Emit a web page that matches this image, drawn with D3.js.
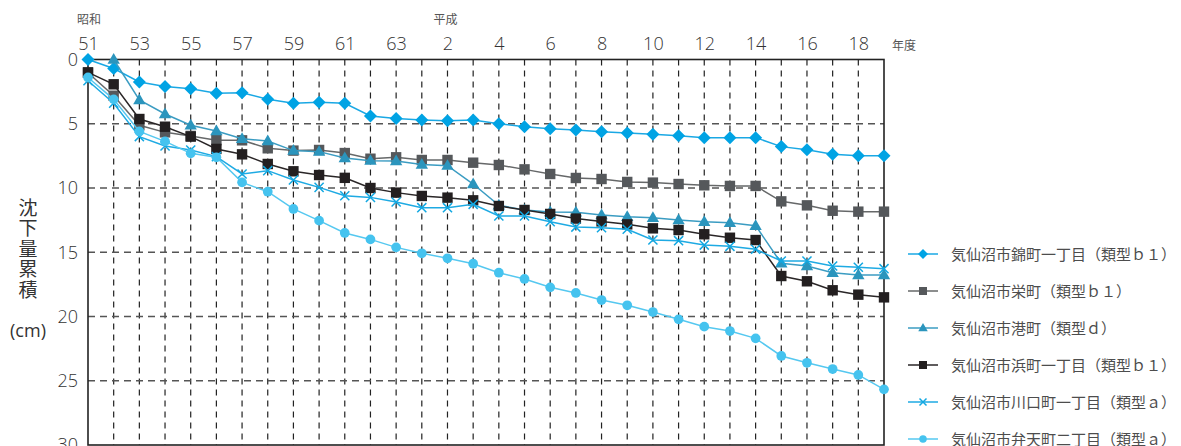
<!DOCTYPE html>
<html><head><meta charset="utf-8">
<script src="https://cdn.jsdelivr.net/npm/d3@7"></script>
<style>
body{margin:0;background:#fff;}
svg{display:block;font-family:"Noto Sans CJK JP","Noto Sans",sans-serif;}
</style></head>
<body><svg id="c" width="1181" height="446"></svg>
<script>
// Year index 0..31 : 昭和51 .. 平成19
const years = d3.range(32);
const tickIdx = d3.range(0, 31, 2);
const tickLabels = ["51","53","55","57","59","61","63","2","4","6","8","10","12","14","16","18"];
const yTicks = [0,5,10,15,20,25,30];

const seriesNames = [
  "気仙沼市錦町一丁目（類型ｂ１）",
  "気仙沼市栄町（類型ｂ１）",
  "気仙沼市港町（類型ｄ）",
  "気仙沼市浜町一丁目（類型ｂ１）",
  "気仙沼市川口町一丁目（類型ａ）",
  "気仙沼市弁天町二丁目（類型ａ）"
];
const nishiki = [0,0.7,1.75,2.1,2.27,2.63,2.58,3.1,3.41,3.33,3.41,4.4,4.6,4.7,4.76,4.7,5.0,5.23,5.38,5.49,5.62,5.72,5.82,5.93,6.08,6.08,6.08,6.78,7.02,7.38,7.49,7.49];
const sakae = [1.03,2.82,5.12,5.67,5.95,6.28,6.29,6.91,7.09,7.04,7.28,7.72,7.61,7.82,7.82,8.03,8.21,8.55,8.91,9.22,9.3,9.53,9.58,9.69,9.79,9.84,9.84,11.04,11.35,11.77,11.84,11.84];
const minato = [null,0,3.15,4.24,5.12,5.56,6.16,6.34,7.09,7.17,7.67,7.87,7.9,8.18,8.26,9.69,11.35,11.71,11.87,11.89,12.1,12.23,12.31,12.49,12.62,12.7,12.93,15.86,16.07,16.59,16.77,16.77];
const hama = [1.0,1.93,4.63,5.23,6.0,6.96,7.38,8.13,8.7,8.99,9.21,10.0,10.36,10.62,10.75,10.96,11.4,11.71,12.02,12.38,12.6,12.83,13.14,13.27,13.6,13.87,14.05,16.85,17.26,17.96,18.3,18.51];
const kawaguchi = [1.65,3.4,6.0,6.73,7.04,7.56,8.91,8.65,9.38,9.95,10.6,10.73,11.09,11.53,11.53,11.27,12.18,12.18,12.62,13.04,13.09,13.21,14.05,14.1,14.44,14.54,14.77,15.68,15.68,16.07,16.17,16.28];
const benten = [1.4,3.1,5.6,6.37,7.3,7.61,9.56,10.29,11.63,12.54,13.5,14.0,14.62,15.08,15.47,15.89,16.59,17.08,17.73,18.17,18.72,19.13,19.65,20.22,20.79,21.13,21.7,23.07,23.6,24.09,24.55,25.67];

const seriesValues = [nishiki, sakae, minato, hama, kawaguchi, benten];
const colors = ["#00a3e4","#55585b","#2b95bd","#231f20","#12a8e2","#45c3ef"];
const lineColors = ["#1aa8e4","#666869","#3b9cc2","#2a2627","#1eaae3","#55c8f0"];
const markers = ["diamond","square","triangle","square","cross","circle"];

const svg = d3.select("#c");
const x = d3.scaleLinear().domain([0,31]).range([88,884]);
const y = d3.scaleLinear().domain([0,30]).range([59.5,445]);

// grid
const g = svg.append("g");
g.selectAll("line.v").data(d3.range(1,31)).join("line")
  .attr("x1",d=>x(d)).attr("x2",d=>x(d)).attr("y1",y(0)).attr("y2",y(30))
  .attr("stroke","#222").attr("stroke-width",1.2).attr("stroke-dasharray","6,5");
g.selectAll("line.h").data([5,10,15,20,25]).join("line")
  .attr("x1",x(0)).attr("x2",x(31)).attr("y1",d=>y(d)).attr("y2",d=>y(d))
  .attr("stroke","#555").attr("stroke-width",1.4).attr("stroke-dasharray","7,5");
// frame
g.append("rect").attr("x",x(0)).attr("y",y(0)).attr("width",x(31)-x(0)).attr("height",y(30)-y(0))
  .attr("fill","none").attr("stroke","#222").attr("stroke-width",1.6);

// axes
const xAxis = d3.axisTop(x).tickValues(tickIdx).tickFormat((d,i)=>tickLabels[i]).tickSize(0).tickPadding(10);
const ax = svg.append("g").attr("transform",`translate(0,${y(0)})`).call(xAxis);
ax.select(".domain").remove();
ax.selectAll("text").attr("font-size",18).attr("fill","#333").attr("font-weight",300)
  .attr("font-family","'Open Sans','Noto Sans',sans-serif");

const yAxis = d3.axisLeft(y).tickValues(yTicks).tickSize(0).tickPadding(10);
const ay = svg.append("g").attr("transform",`translate(${x(0)},0)`).call(yAxis);
ay.select(".domain").remove();
ay.selectAll("text").attr("font-size",18).attr("fill","#333").attr("font-weight",300)
  .attr("font-family","'Open Sans','Noto Sans',sans-serif");

// era labels
svg.append("text").text("昭和").attr("x",x(0)-11).attr("y",24).attr("font-size",12).attr("fill","#555");
svg.append("text").text("平成").attr("x",x(14)-14).attr("y",24).attr("font-size",12).attr("fill","#555");
svg.append("text").text("年度").attr("x",892).attr("y",50).attr("font-size",12).attr("fill","#555");

// y title (vertical)
svg.append("text").text("沈下量累積")
  .attr("x",28).attr("y",198)
  .style("writing-mode","vertical-rl").style("text-orientation","upright")
  .style("letter-spacing","1.5px")
  .attr("font-size",19).attr("fill","#333");
svg.append("text").text("(cm)").attr("x",28).attr("y",337).attr("text-anchor","middle")
  .attr("font-size",18).attr("fill","#333").attr("font-family","'Open Sans','Noto Sans',sans-serif");

function drawMarker(sel, type, color, s){
  if(type==="diamond"){
    sel.append("path").attr("d",`M0,${-s}L${s},0L0,${s}L${-s},0Z`).attr("fill",color);
  } else if(type==="square"){
    sel.append("rect").attr("x",-s*0.8).attr("y",-s*0.8).attr("width",s*1.6).attr("height",s*1.6).attr("fill",color);
  } else if(type==="triangle"){
    sel.append("path").attr("d",`M0,${-s}L${s*0.95},${s*0.65}L${-s*0.95},${s*0.65}Z`).attr("fill",color);
  } else if(type==="cross"){
    const c=s*0.7;
    sel.append("path").attr("d",`M${-c},${-c}L${c},${c}M${-c},${c}L${c},${-c}`).attr("stroke",color).attr("stroke-width",1.5).attr("fill","none");
  } else if(type==="circle"){
    sel.append("circle").attr("r",s*0.75).attr("fill",color);
  }
}

const line = d3.line().defined(d=>d.v!=null).x(d=>x(d.i)).y(d=>y(d.v));
seriesValues.forEach((vals,k)=>{
  const data = vals.map((v,i)=>({i,v}));
  svg.append("path").datum(data).attr("d",line).attr("fill","none")
    .attr("stroke",lineColors[k]).attr("stroke-width",1.5);
  const mg = svg.append("g");
  data.filter(d=>d.v!=null).forEach(d=>{
    const m = mg.append("g").attr("transform",`translate(${x(d.i)},${y(d.v)})`);
    drawMarker(m, markers[k], colors[k], 6.5);
  });
});

// legend
const lg = svg.append("g");
seriesNames.forEach((n,k)=>{
  const cy = 254 + k*37;
  lg.append("line").attr("x1",908).attr("x2",938).attr("y1",cy).attr("y2",cy)
    .attr("stroke",lineColors[k]).attr("stroke-width",1.5);
  const m = lg.append("g").attr("transform",`translate(923,${cy})`);
  drawMarker(m, markers[k], colors[k], 5);
  lg.append("text").text(n).attr("x",951).attr("y",cy+5.5).attr("font-size",15).attr("fill","#4d4d4d");
});
</script></body></html>
